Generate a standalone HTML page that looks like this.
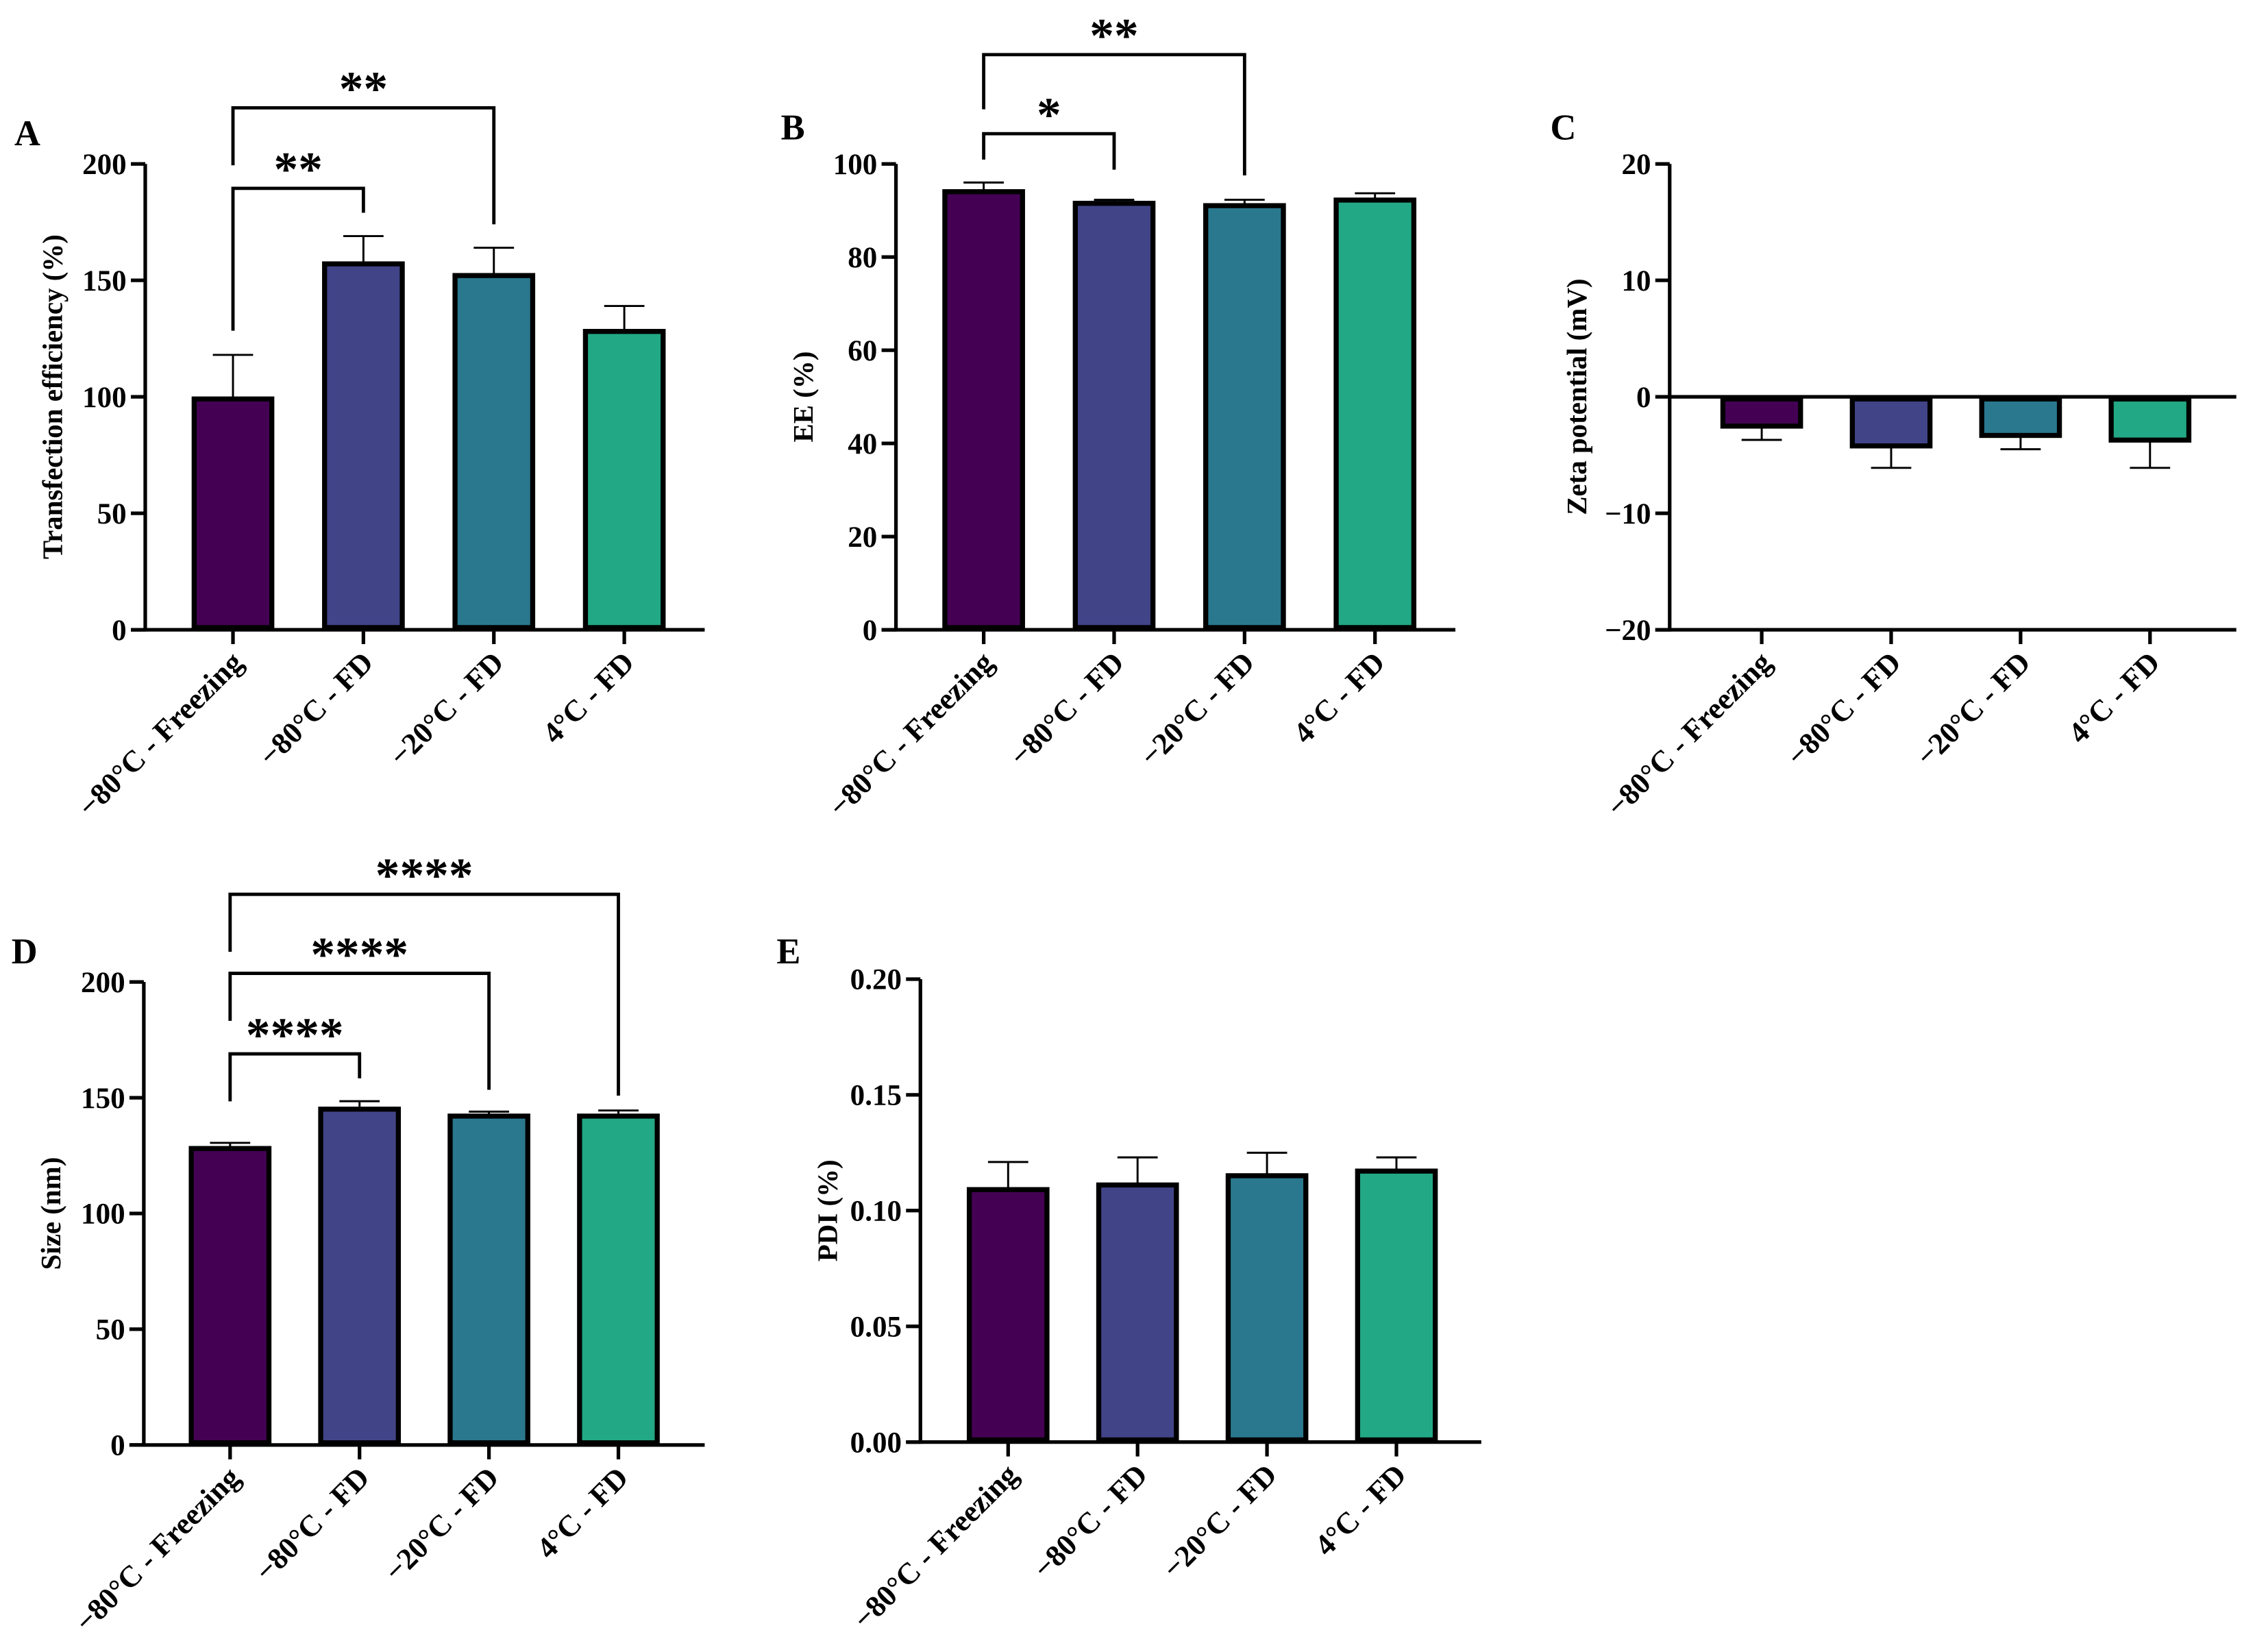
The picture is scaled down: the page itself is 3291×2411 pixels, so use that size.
<!DOCTYPE html>
<html><head><meta charset="utf-8"><style>
html,body{margin:0;padding:0;background:#fff;}
svg{display:block;}
text{font-family:"Liberation Serif",serif;font-weight:bold;fill:#000;}
</style></head><body>
<svg id="fig" width="3291" height="2411" viewBox="0 0 1568 1149" preserveAspectRatio="none" xmlns="http://www.w3.org/2000/svg"></svg>
<script>
const categories = ["\u221280\u00b0C - Freezing","\u221280\u00b0C - FD","\u221220\u00b0C - FD","4\u00b0C - FD"];
const colors = ["#440154","#414487","#2a788e","#22a884"];
const valuesA = [100,158,153,129];
const errorsA = [18,11,11,10];
const ticksA = [0,50,100,150,200];
const valuesB = [94.5,92,91.5,92.7];
const errorsB = [1.5,0.3,0.8,1];
const ticksB = [0,20,40,60,80,100];
const valuesC = [-2.7,-4.4,-3.5,-3.9];
const errorsC = [1,1.7,1,2.2];
const ticksC = [-20,-10,0,10,20];
const valuesD = [129,146,143,143];
const errorsD = [1.5,2.5,1,1.5];
const ticksD = [0,50,100,150,200];
const valuesE = [0.110,0.112,0.116,0.118];
const errorsE = [0.011,0.011,0.009,0.005];
const ticksE = [0,0.05,0.10,0.15,0.20];
const ticksELabels = ["0.00","0.05","0.10","0.15","0.20"];

const NS="http://www.w3.org/2000/svg";
const svg=document.getElementById('fig');
function mk(tag,attrs,parent){const e=document.createElementNS(NS,tag);for(const k in attrs)e.setAttribute(k,attrs[k]);(parent||svg).appendChild(e);return e;}

function panel(o){
  const g=mk('g',{});
  
  
  const ymin=o.ticks[0],ymax=o.ticks[o.ticks.length-1];
  const Y=v=>o.yBot-(v-ymin)/(ymax-ymin)*(o.yBot-o.yTop);
  const X=i=>o.x0+o.c0+i*o.step;
  const base=Y(Math.max(ymin,Math.min(0,ymax)));
  const L=mk('text',{x:o.lx,y:o.ly,'font-size':25},g);L.textContent=o.letter;
  
  
  const t=mk('text',{x:0,y:0,'font-size':19.5,'text-anchor':'middle',transform:`translate(${o.x0-58},${(o.yTop+o.yBot)/2}) rotate(-90)`},g);
  t.textContent=o.ytitle;
  
  
  o.values.forEach((v,i)=>{
    const cx=X(i),w=57;
    const y1=Y(v);
    const top=Math.min(y1,base),h=Math.abs(y1-base);
    const e=o.errors[i];
    const ye=v>=0?Y(v+e):Y(v-e);
    const el=mk('line',{x1:cx,x2:cx,y1:y1,y2:ye,stroke:'#000','stroke-width':1.4},g);
    
    
    const ec=mk('line',{x1:cx-14,x2:cx+14,y1:ye,y2:ye,stroke:'#000','stroke-width':1.4},g);
    
    
    const r=mk('rect',{x:cx-w/2+1.5,y:top+1.5,width:w-3,height:Math.max(h-3,0),fill:colors[i],stroke:'#000','stroke-width':3.5},g);
    
    
    const xt=mk('line',{x1:cx,x2:cx,y1:o.yBot,y2:o.yBot+10,stroke:'#000','stroke-width':2.5},g);
    
    
    const lb=mk('text',{x:0,y:0,'font-size':21,'text-anchor':'end',transform:`translate(${cx+8},${o.yBot+24}) rotate(-45)`},g);
    lb.textContent=categories[i];
    
    
  });
  const ya=mk('line',{x1:o.x0,x2:o.x0,y1:o.yTop,y2:o.yBot+1.2,stroke:'#000','stroke-width':2.5},g);
  
  
  const xa=mk('line',{x1:o.x0-10,x2:o.xEnd,y1:o.yBot,y2:o.yBot,stroke:'#000','stroke-width':2.5},g);
  
  
  if(base!==o.yBot){
    const za=mk('line',{x1:o.x0,x2:o.xEnd,y1:base,y2:base,stroke:'#000','stroke-width':2.5},g);
    
    
  }
  o.ticks.forEach((v,k)=>{
    const y=Y(v);
    const tk=mk('line',{x1:o.x0-10,x2:o.x0,y1:y,y2:y,stroke:'#000','stroke-width':2.5},g);
    
    
    const tl=mk('text',{x:o.x0-13,y:y+7,'font-size':20.5,'text-anchor':'end'},g);
    tl.textContent=o.tickLabels?o.tickLabels[k]:(v<0?'\u2212'+(-v):String(v));
    
    
  });
  (o.brackets||[]).forEach(b=>{
    const xa=X(b.a),xb=X(b.b);
    const p=mk('polyline',{points:`${xa},${b.la} ${xa},${b.y} ${xb},${b.y} ${xb},${b.lb}`,fill:'none',stroke:'#000','stroke-width':2.3},g);
    
    
    const s=mk('text',{x:(xa+xb)/2,y:b.y-2,'font-size':34,'text-anchor':'middle','font-family':'Liberation Sans, sans-serif'},g);
    s.textContent=b.s;
    
    
  });
}

panel({name:'panel-a-transfection',letter:'A',lx:10,ly:101,x0:101,c0:61,step:90.7,xEnd:490,yTop:114,yBot:438,
  values:valuesA,errors:errorsA,ticks:ticksA,ytitle:'Transfection efficiency (%)',
  brackets:[{a:0,b:1,y:131,la:230,lb:148,s:'**'},{a:0,b:2,y:75,la:115,lb:156,s:'**'}]});
panel({name:'panel-b-ee',letter:'B',lx:543,ly:97,x0:623,c0:61,step:90.7,xEnd:1012,yTop:114,yBot:438,
  values:valuesB,errors:errorsB,ticks:ticksB,ytitle:'EE (%)',
  brackets:[{a:0,b:1,y:93,la:111,lb:118,s:'*'},{a:0,b:2,y:38,la:76,lb:122,s:'**'}]});
panel({name:'panel-c-zeta',letter:'C',lx:1078,ly:97,x0:1161,c0:64,step:90,xEnd:1555,yTop:114,yBot:438,
  values:valuesC,errors:errorsC,ticks:ticksC,ytitle:'Zeta potential (mV)'});
panel({name:'panel-d-size',letter:'D',lx:8,ly:670,x0:100,c0:60,step:90,xEnd:490,yTop:683,yBot:1005,
  values:valuesD,errors:errorsD,ticks:ticksD,ytitle:'Size (nm)',
  brackets:[{a:0,b:1,y:733,la:766,lb:750,s:'****'},{a:0,b:2,y:677,la:710,lb:758,s:'****'},{a:0,b:3,y:622,la:662,lb:762,s:'****'}]});
panel({name:'panel-e-pdi',letter:'E',lx:540,ly:670,x0:640,c0:61,step:90,xEnd:1030,yTop:681,yBot:1003,
  values:valuesE,errors:errorsE,ticks:ticksE,tickLabels:ticksELabels,ytitle:'PDI (%)'});
</script>
</body></html>
